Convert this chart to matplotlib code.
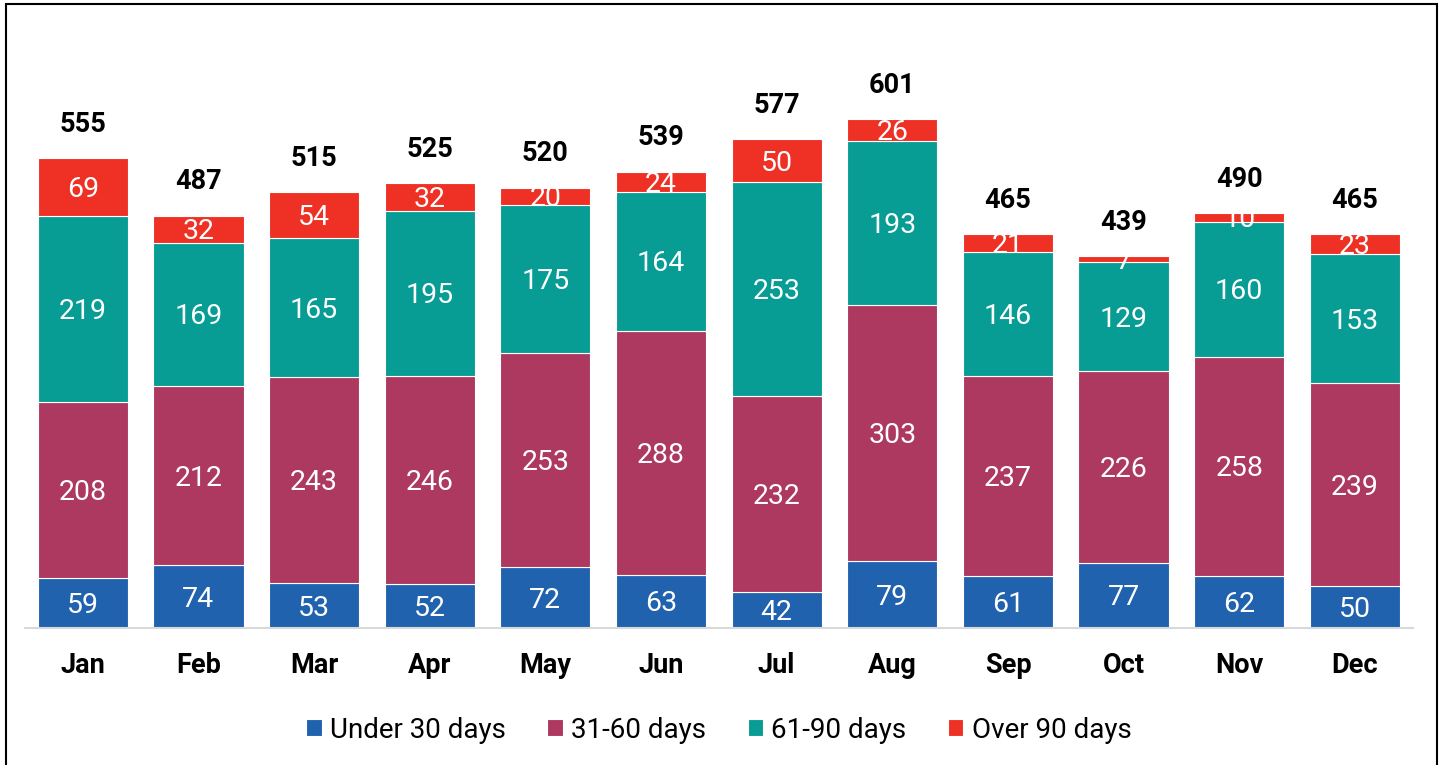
import numpy as np
import matplotlib.pyplot as plt
from matplotlib.patches import Rectangle

plt.rcParams['font.family'] = ['Roboto', 'DejaVu Sans']

months = ['Jan', 'Feb', 'Mar', 'Apr', 'May', 'Jun', 'Jul', 'Aug', 'Sep', 'Oct', 'Nov', 'Dec']
under_30 = [59, 74, 53, 52, 72, 63, 42, 79, 61, 77, 62, 50]
d31_60 = [208, 212, 243, 246, 253, 288, 232, 303, 237, 226, 258, 239]
d61_90 = [219, 169, 165, 195, 175, 164, 253, 193, 146, 129, 160, 153]
over_90 = [69, 32, 54, 32, 20, 24, 50, 26, 21, 7, 10, 23]
totals = [555, 487, 515, 525, 520, 539, 577, 601, 465, 439, 490, 465]

series = [
    ('Under 30 days', under_30, '#2062AE'),
    ('31-60 days', d31_60, '#AD3860'),
    ('61-90 days', d61_90, '#079C94'),
    ('Over 90 days', over_90, '#EE3124'),
]

fig = plt.figure(figsize=(14.43, 7.65), dpi=100)
ax = fig.add_axes([0.0173, 0.179, 0.9617, 0.775])

x = np.arange(len(months))
bottom = np.zeros(len(months))
for name, vals, col in series:
    vals = np.array(vals)
    ax.bar(x, vals, 0.78, bottom=bottom, color=col, edgecolor='white', linewidth=0.8, label=name)
    for xi, b, v in zip(x, bottom, vals):
        ax.text(xi, b + v / 2 - 3, str(v), ha='center', va='center', color='white', fontsize=20.5)
    bottom += vals

for xi, t in zip(x, totals):
    ax.text(xi, t + 24, str(t), ha='center', va='bottom', fontsize=19.5, fontweight='bold')

ax.set_xlim(-0.5, 11.5)
ax.set_ylim(0, 700)
ax.set_xticks(x)
ax.set_xticklabels(months, fontsize=19.5, fontweight='bold')
ax.tick_params(axis='x', length=0, pad=17)
ax.set_yticks([])
for s in ['top', 'right', 'left']:
    ax.spines[s].set_visible(False)
ax.spines['bottom'].set_color('#D9D9D9')
ax.spines['bottom'].set_linewidth(1.5)

ax.legend(loc='center', bbox_to_anchor=(0.5, -0.172), ncol=4, frameon=False, fontsize=20,
          handlelength=0.55, handleheight=0.55, handletextpad=0.3, columnspacing=1.5)

fig.patches.append(Rectangle((0.0045, -0.01), 0.9915, 1.005, transform=fig.transFigure,
                             fill=False, edgecolor='black', linewidth=1.5))

fig.savefig('out.png', dpi=100)
